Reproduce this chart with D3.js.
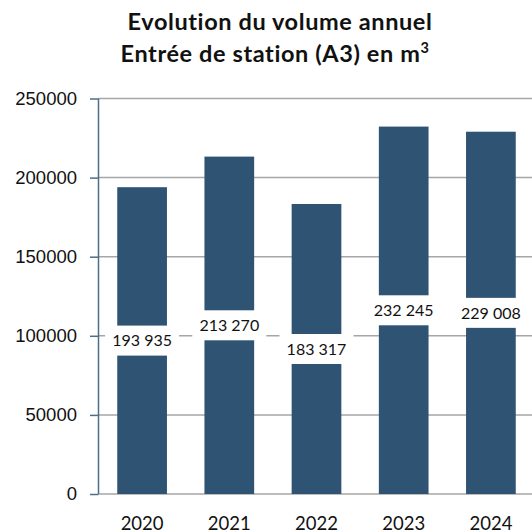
<!DOCTYPE html>
<html lang="fr">
  <head>
    <meta charset="UTF-8">
    <title>Evolution du volume annuel</title>
    <script src="https://cdn.jsdelivr.net/npm/d3@7"></script>
    <style>
      html, body {
        margin: 0;
        padding: 0;
        background: #fff;
      }
      svg {
        display: block;
        font-family: 'Lato', sans-serif;
        font-variant-ligatures: none;
      }
      .title {
        font-weight: bold;
        font-size: 23.5px;
        letter-spacing: 0.6px;
        fill: #111;
      }
      .tick text {
        font-size: 18.5px;
        fill: #111;
      }
      .value-label {
        font-size: 16px;
        fill: #111;
      }
    </style>
  </head>
  <body>
    <script>
      const years = ["2020", "2021", "2022", "2023", "2024"];
      const volumes = [193935, 213270, 183317, 232245, 229008];
      const yTicks = [0, 50000, 100000, 150000, 200000, 250000];
      const titleLines = ["Evolution du volume annuel", "Entrée de station (A3) en m"];

      const width = 532;
      const height = 531;
      const plotLeft = 98.5;
      const plotRight = 534.5;
      const plotTop = 98.5;
      const plotBottom = 494;

      const barColor = "#2f5373";
      const gridColor = "#a6a6a6";
      const axisColor = "#4d6d8c";

      const frFormat = d3.formatLocale({
        decimal: ",",
        thousands: " ",
        grouping: [3],
        currency: ["", " €"]
      }).format(",d");

      const svg = d3.select("body")
        .append("svg")
        .attr("width", width)
        .attr("height", height);

      // titre
      const title = svg.append("text")
        .attr("class", "title")
        .attr("text-anchor", "middle");
      title.append("tspan")
        .attr("x", 280)
        .attr("y", 30)
        .text(titleLines[0]);
      title.append("tspan")
        .attr("x", 275)
        .attr("y", 62)
        .text(titleLines[1]);
      title.append("tspan")
        .attr("dy", -9)
        .style("font-size", "14.5px")
        .text("3");

      const x = d3.scaleBand()
        .domain(years)
        .range([plotLeft, plotRight])
        .paddingInner(0.43)
        .paddingOuter(0.215);

      const y = d3.scaleLinear()
        .domain([0, 250000])
        .range([plotBottom, plotTop]);

      // grille
      svg.append("g")
        .selectAll("line")
        .data(yTicks)
        .enter()
        .append("line")
        .attr("x1", plotLeft)
        .attr("x2", width)
        .attr("y1", d => y(d))
        .attr("y2", d => y(d))
        .attr("stroke", gridColor)
        .attr("stroke-width", 1.5);

      // barres
      svg.append("g")
        .selectAll("rect")
        .data(volumes)
        .enter()
        .append("rect")
        .attr("x", (d, i) => x(years[i]))
        .attr("y", d => y(d))
        .attr("width", x.bandwidth())
        .attr("height", d => plotBottom - y(d))
        .attr("fill", barColor);

      // axe y
      const yAxis = svg.append("g")
        .attr("transform", `translate(${plotLeft},0)`)
        .call(d3.axisLeft(y)
          .tickValues(yTicks)
          .tickFormat(d3.format("d"))
          .tickSize(8.5)
          .tickPadding(13));
      yAxis.select(".domain")
        .attr("stroke", axisColor)
        .attr("stroke-width", 1.5)
        .attr("d", `M0,${plotTop}V${plotBottom}`);
      yAxis.selectAll(".tick line")
        .attr("stroke", axisColor)
        .attr("stroke-width", 1.5);

      // axe x (labels seulement, coupés en bas comme l'original)
      svg.append("g")
        .selectAll("text")
        .data(years)
        .enter()
        .append("text")
        .attr("x", d => x(d) + x.bandwidth() / 2)
        .attr("y", 530)
        .attr("text-anchor", "middle")
        .style("font-size", "18.5px")
        .attr("fill", "#111")
        .text(d => d);

      // étiquettes de valeur au centre des barres
      const labels = svg.append("g")
        .selectAll("g")
        .data(volumes)
        .enter()
        .append("g")
        .attr("transform", (d, i) => `translate(${x(years[i]) + x.bandwidth() / 2},${y(d / 2)})`);

      labels.append("rect")
        .attr("x", -37)
        .attr("y", -15)
        .attr("width", 74)
        .attr("height", 30)
        .attr("fill", "#fff");

      labels.append("text")
        .attr("class", "value-label")
        .attr("text-anchor", "middle")
        .attr("dy", "0.36em")
        .text(d => frFormat(d));
    </script>
  </body>
</html>
